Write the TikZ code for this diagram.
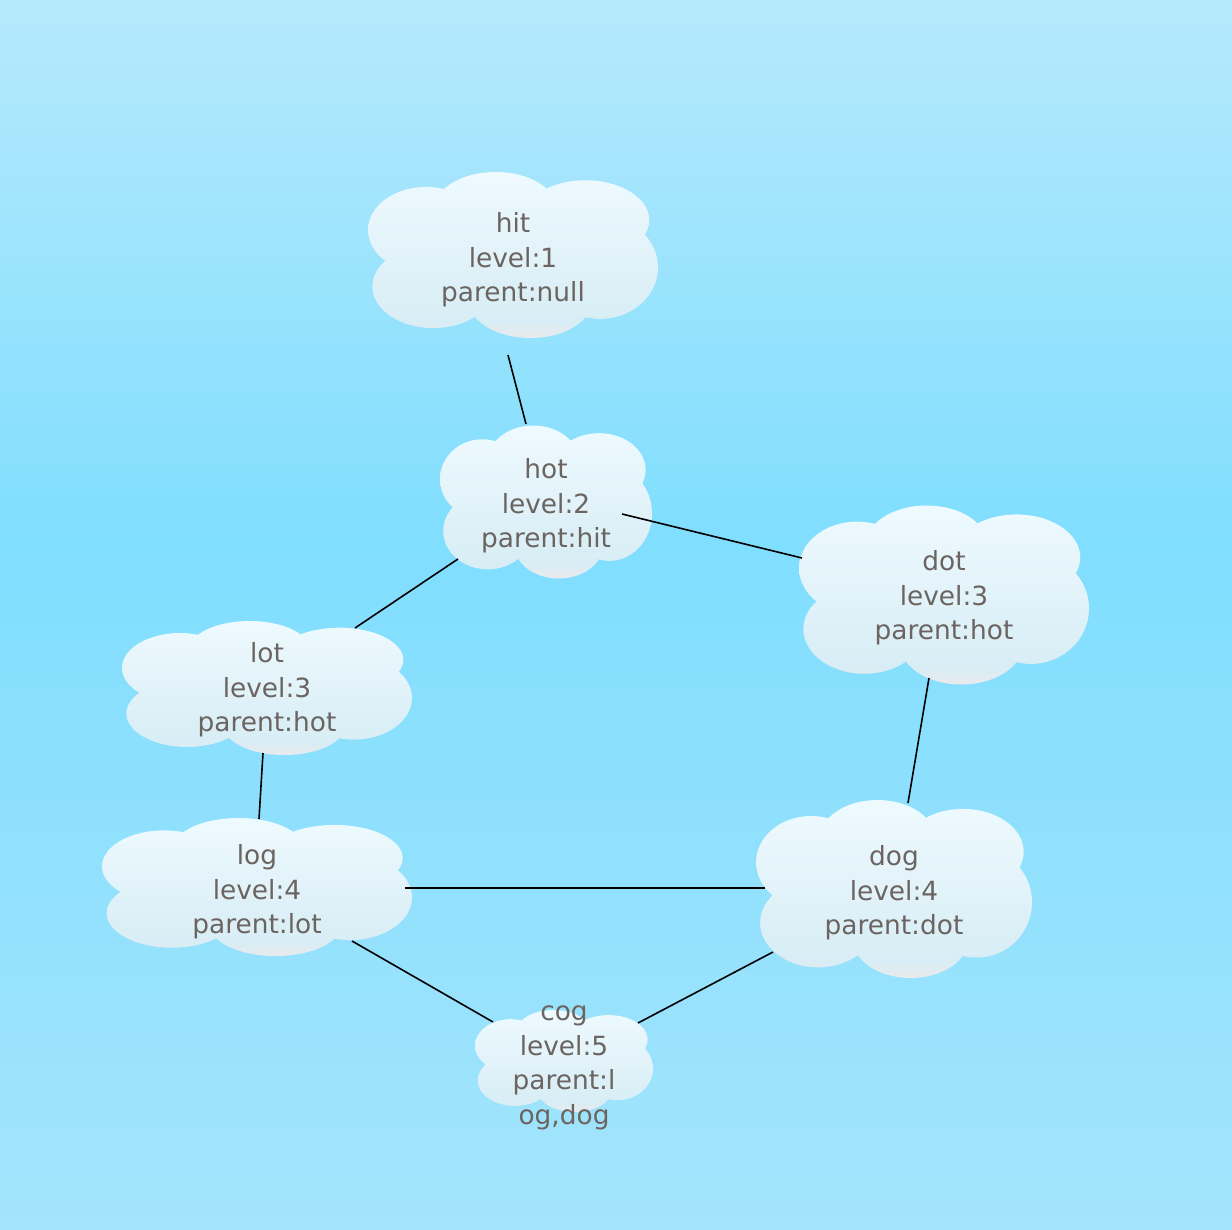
\documentclass[tikz,border=0pt]{standalone}
\usepackage{fontspec}
\setmainfont{DejaVu Sans}
\definecolor{bgtop}{RGB}{182,233,252}
\definecolor{bgmid}{RGB}{128,222,254}
\definecolor{bgbot}{RGB}{164,228,252}
\definecolor{cltop}{RGB}{238,250,254}
\definecolor{clbot}{RGB}{216,237,245}
\definecolor{clgrey}{RGB}{233,234,237}
\definecolor{txt}{RGB}{107,100,97}
\pgfdeclareverticalshading{bgshade}{100bp}{color(0bp)=(bgbot); color(25bp)=(bgbot); color(53bp)=(bgmid); color(75bp)=(bgtop); color(100bp)=(bgtop)}
\pgfdeclareverticalshading{cloudshade}{100bp}{color(0bp)=(clgrey); color(25bp)=(clgrey); color(30bp)=(clbot); color(75bp)=(cltop); color(100bp)=(cltop)}
\tikzset{
  cloudbox/.style={rectangle, draw=none, fill=none, inner sep=0pt},
  cloudfill/.style={shading=cloudshade, draw=none},
  label text/.style={text=txt, align=center, font=\fontsize{13.2}{17.3}\selectfont},
  link/.style={draw=black, line width=0.8pt}
}
% #1 name, #2 x, #3 y, #4 width, #5 height
\newcommand{\mycloud}[5]{%
  \shade[cloudfill, shift={(#2,#3)}, xscale=#4/2, yscale=#5/2]
    (-0.6,-0.3) ellipse (0.4 and 0.52)
    (-0.12,-0.56) ellipse (0.42 and 0.44)
    (0.5,-0.42) ellipse (0.44 and 0.48)
    (0.6,0.15) ellipse (0.4 and 0.62)
    (0.12,0.56) ellipse (0.42 and 0.44)
    (-0.55,0.38) ellipse (0.42 and 0.5)
    (0.05,-0.03) ellipse (0.74 and 0.64);
  \node[cloudbox, minimum width=#4*0.5pt, minimum height=#5*0.5pt] (#1) at (#2,#3) {};
}
\begin{document}
\begin{tikzpicture}[x=0.5pt,y=-0.5pt]
\useasboundingbox (0,0) rectangle (1232,1230);
\shade[shading=bgshade] (0,0) rectangle (1232,1230);

\mycloud{hit}{513}{255}{290}{166}
\mycloud{hot}{546}{502}{212}{153}
\mycloud{dot}{944}{595}{290}{179}
\mycloud{lot}{267}{688}{290}{134}
\mycloud{log}{257}{887}{310}{138}
\mycloud{dog}{894}{889}{276}{178}
\mycloud{cog}{564}{1061}{178}{102}

\draw[link] ([shift={(-5,100)}]hit.center) -- ([shift={(-20,-78)}]hot.center);
\draw[link] ([shift={(76,12)}]hot.center) -- ([shift={(-142,-37)}]dot.center);
\draw[link] ([shift={(-88,57)}]hot.center) -- ([shift={(88,-60)}]lot.center);
\draw[link] ([shift={(-4,65)}]lot.center) -- ([shift={(2,-68)}]log.center);
\draw[link] ([shift={(-15,83)}]dot.center) -- ([shift={(14,-86)}]dog.center);
\draw[link] ([shift={(148,1)}]log.center) -- ([shift={(-129,-1)}]dog.center);
\draw[link] ([shift={(95,54)}]log.center) -- ([shift={(-71,-39)}]cog.center);
\draw[link] ([shift={(-121,63)}]dog.center) -- ([shift={(74,-38)}]cog.center);

\node[label text] (hit-t) at (513,260) {hit\\level:1\\parent:null};
\node[label text] (hot-t) at (546,506) {hot\\level:2\\parent:hit};
\node[label text] (dot-t) at (944,598) {dot\\level:3\\parent:hot};
\node[label text] (lot-t) at (267,690) {lot\\level:3\\parent:hot};
\node[label text] (log-t) at (257,892) {log\\level:4\\parent:lot};
\node[label text] (dog-t) at (894,893) {dog\\level:4\\parent:dot};
\node[label text] (cog-t) at (564,1068) {cog\\level:5\\parent:l\\og,dog};
\end{tikzpicture}
\end{document}
